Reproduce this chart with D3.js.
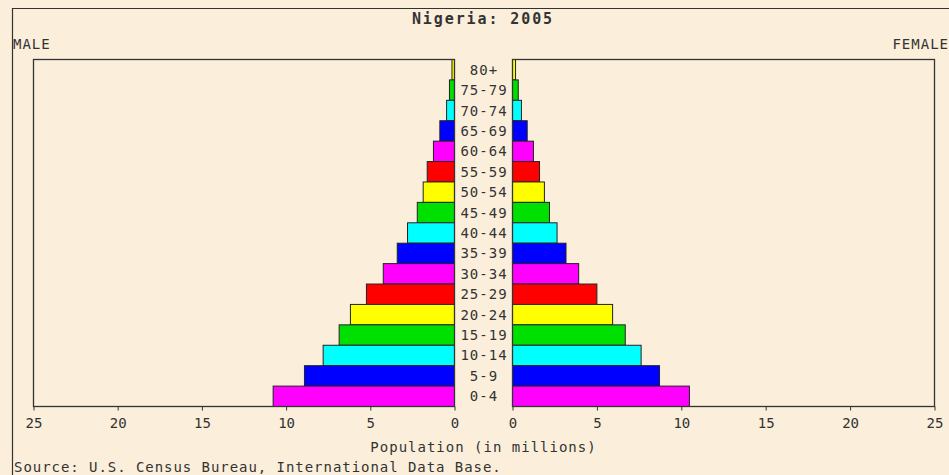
<!DOCTYPE html>
<html><head><meta charset="utf-8">
<script src="https://cdn.jsdelivr.net/npm/d3@7"></script>
<style>
html,body{margin:0;padding:0;background:#fbefdb;}
svg{display:block;}
text{font-family:"DejaVu Sans Mono",monospace;fill:#333;}
</style></head>
<body>
<script>
const title = "Nigeria: 2005";
const ageGroups = ["80+","75-79","70-74","65-69","60-64","55-59","50-54","45-49","40-44","35-39","30-34","25-29","20-24","15-19","10-14","5-9","0-4"];
const maleValues   = [0.15,0.30,0.47,0.87,1.25,1.62,1.86,2.21,2.79,3.40,4.23,5.23,6.18,6.85,7.80,8.91,10.77];
const femaleValues = [0.18,0.34,0.53,0.87,1.24,1.60,1.89,2.19,2.64,3.17,3.92,5.00,5.93,6.68,7.62,8.71,10.48];
const barColors = ["#ffff00","#00e000","#00ffff","#0000ff","#ff00ff","#ff0000","#ffff00","#00e000","#00ffff","#0000ff","#ff00ff","#ff0000","#ffff00","#00e000","#00ffff","#0000ff","#ff00ff"];
const tickValues = [0,5,10,15,20,25];

const W = 949, H = 475;
const svg = d3.select("body").append("svg").attr("width", W).attr("height", H);
svg.append("rect").attr("width", W).attr("height", H).attr("fill", "#fbefdb");

// outer frame
svg.append("path").attr("d", `M12.5,${H} V8.5 H${W}`).attr("fill","none").attr("stroke","#333").attr("stroke-width",1.2);

const plotTop = 59.5, plotBottom = 406.5;
const xL = d3.scaleLinear().domain([0,25]).range([454.5,33.5]);
const xR = d3.scaleLinear().domain([0,25]).range([512.5,934.5]);
const y = d3.scaleBand().domain(ageGroups).range([plotTop,plotBottom]).padding(0);

// bars
const gL = svg.append("g");
gL.selectAll("rect").data(ageGroups).join("rect")
  .attr("x",(d,i)=>xL(maleValues[i]))
  .attr("y",d=>y(d))
  .attr("width",(d,i)=>xL(0)-xL(maleValues[i]))
  .attr("height",y.bandwidth())
  .attr("fill",(d,i)=>barColors[i])
  .attr("stroke","#222").attr("stroke-width",1);
const gR = svg.append("g");
gR.selectAll("rect").data(ageGroups).join("rect")
  .attr("x",xR(0))
  .attr("y",d=>y(d))
  .attr("width",(d,i)=>xR(femaleValues[i])-xR(0))
  .attr("height",y.bandwidth())
  .attr("fill",(d,i)=>barColors[i])
  .attr("stroke","#222").attr("stroke-width",1);

// plot boxes
svg.append("rect").attr("x",xL(25)).attr("y",plotTop).attr("width",xL(0)-xL(25)).attr("height",plotBottom-plotTop)
  .attr("fill","none").attr("stroke","#333").attr("stroke-width",1.3);
svg.append("rect").attr("x",xR(0)).attr("y",plotTop).attr("width",xR(25)-xR(0)).attr("height",plotBottom-plotTop)
  .attr("fill","none").attr("stroke","#333").attr("stroke-width",1.3);

// axes
const axL = d3.axisBottom(xL).tickValues(tickValues).tickSize(4).tickPadding(6);
const axR = d3.axisBottom(xR).tickValues(tickValues).tickSize(4).tickPadding(6);
function styleAxis(g){
  g.select(".domain").remove();
  g.selectAll(".tick line").attr("stroke","#333");
  g.selectAll(".tick text").attr("fill","#333").style("font-family","DejaVu Sans Mono, monospace")
    .style("font-size","14px").attr("dy","0.8em");
}
svg.append("g").attr("transform",`translate(0,${plotBottom})`).call(axL).call(styleAxis);
svg.append("g").attr("transform",`translate(0,${plotBottom})`).call(axR).call(styleAxis);

// age labels
const cx = (xL(0)+xR(0))/2;
svg.append("g").selectAll("text").data(ageGroups).join("text")
  .attr("x",cx+0.5).attr("y",d=>y(d)+y.bandwidth()/2+5)
  .attr("text-anchor","middle").style("font-size","14px").style("letter-spacing","1px")
  .text(d=>d);

// titles
svg.append("text").attr("x",483).attr("y",24).attr("text-anchor","middle")
  .style("font-size","15px").style("font-weight","bold").style("letter-spacing","1.9px").text(title);
svg.append("text").attr("x",13).attr("y",49).style("font-size","14px").style("letter-spacing","1px").text("MALE");
svg.append("text").attr("x",949).attr("y",49).attr("text-anchor","end").style("font-size","14px").style("letter-spacing","1px").text("FEMALE");
svg.append("text").attr("x",cx).attr("y",452).attr("text-anchor","middle")
  .style("font-size","14px").style("letter-spacing","1px").text("Population (in millions)");
svg.append("text").attr("x",14).attr("y",472)
  .style("font-size","14px").style("letter-spacing","0.95px").text("Source: U.S. Census Bureau, International Data Base.");
</script>
</body></html>
